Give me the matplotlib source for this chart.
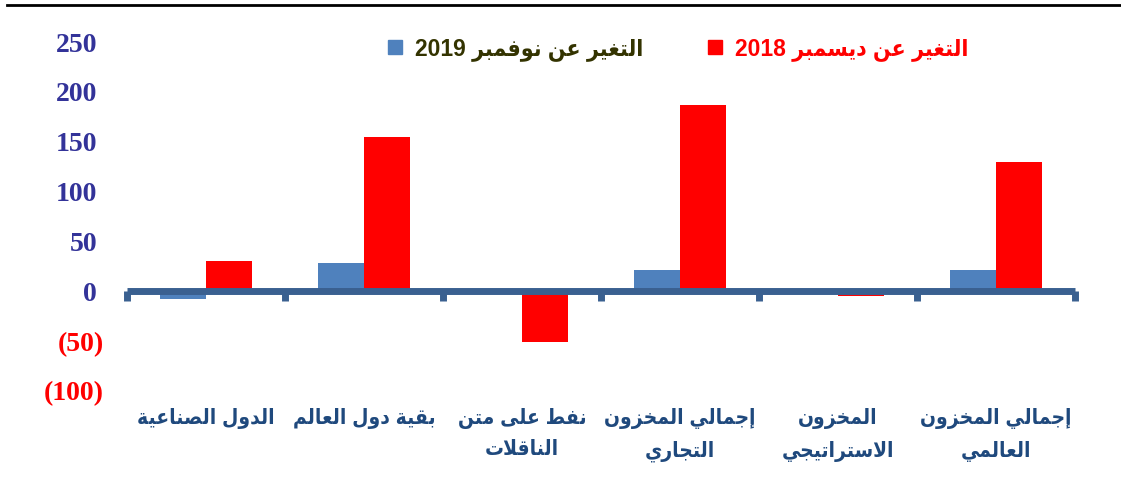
import re

import matplotlib
matplotlib.use('Agg')
import matplotlib.pyplot as plt
import numpy as np
from matplotlib.lines import Line2D
from matplotlib.transforms import ScaledTranslation

categories = ['الدول الصناعية', 'بقية دول العالم', 'نفط على متن\nالناقلات',
              'إجمالي المخزون\nالتجاري', 'المخزون\nالاستراتيجي', 'إجمالي المخزون\nالعالمي']
change_nov_2019 = [-8, 28, -2, 21, -1, 21]
change_dec_2018 = [30, 155, -51, 187, -5, 130]
series_names = ['التغير عن نوفمبر 2019', 'التغير عن ديسمبر 2018']
y_ticks = [-100, -50, 0, 50, 100, 150, 200, 250]

BLUE = '#4F81BD'
RED = '#FF0000'
AXIS = '#3A6090'
NAVY = '#333399'
LABEL = '#1F497D'
OLIVE = '#333300'

# matplotlib has no arabic shaping, so do it by hand with presentation forms
FORMS = {
    'ا': ('\uFE8D', '\uFE8E', None, None),
    'إ': ('\uFE87', '\uFE88', None, None),
    'ب': ('\uFE8F', '\uFE90', '\uFE91', '\uFE92'),
    'ة': ('\uFE93', '\uFE94', None, None),
    'ت': ('\uFE95', '\uFE96', '\uFE97', '\uFE98'),
    'ج': ('\uFE9D', '\uFE9E', '\uFE9F', '\uFEA0'),
    'خ': ('\uFEA5', '\uFEA6', '\uFEA7', '\uFEA8'),
    'د': ('\uFEA9', '\uFEAA', None, None),
    'ر': ('\uFEAD', '\uFEAE', None, None),
    'ز': ('\uFEAF', '\uFEB0', None, None),
    'س': ('\uFEB1', '\uFEB2', '\uFEB3', '\uFEB4'),
    'ص': ('\uFEB9', '\uFEBA', '\uFEBB', '\uFEBC'),
    'ط': ('\uFEC1', '\uFEC2', '\uFEC3', '\uFEC4'),
    'ع': ('\uFEC9', '\uFECA', '\uFECB', '\uFECC'),
    'غ': ('\uFECD', '\uFECE', '\uFECF', '\uFED0'),
    'ف': ('\uFED1', '\uFED2', '\uFED3', '\uFED4'),
    'ق': ('\uFED5', '\uFED6', '\uFED7', '\uFED8'),
    'ل': ('\uFEDD', '\uFEDE', '\uFEDF', '\uFEE0'),
    'م': ('\uFEE1', '\uFEE2', '\uFEE3', '\uFEE4'),
    'ن': ('\uFEE5', '\uFEE6', '\uFEE7', '\uFEE8'),
    'و': ('\uFEED', '\uFEEE', None, None),
    'ى': ('\uFEEF', '\uFEF0', None, None),
    'ي': ('\uFEF1', '\uFEF2', '\uFEF3', '\uFEF4'),
}
LAM_ALEF = ('\uFEFB', '\uFEFC')


def shape(text):
    out = []
    i = 0
    while i < len(text):
        c = text[i]
        if c not in FORMS:
            out.append(c)
            i += 1
            continue
        prev = text[i - 1] if i > 0 else ''
        joins_prev = prev in FORMS and FORMS[prev][2] is not None
        if c == 'ل' and i + 1 < len(text) and text[i + 1] == 'ا':
            out.append(LAM_ALEF[1 if joins_prev else 0])
            i += 2
            continue
        nxt = text[i + 1] if i + 1 < len(text) else ''
        joins_next = FORMS[c][2] is not None and nxt in FORMS
        iso, fin, ini, med = FORMS[c]
        if joins_prev and joins_next:
            out.append(med)
        elif joins_prev:
            out.append(fin)
        elif joins_next:
            out.append(ini)
        else:
            out.append(iso)
        i += 1
    return ''.join(out)


def rtl(text):
    lines = []
    for line in text.split('\n'):
        vis = shape(line)[::-1]
        vis = re.sub(r'[0-9]+', lambda m: m.group(0)[::-1], vis)
        lines.append(vis)
    return '\n'.join(lines)


ar_font = ['Liberation Sans', 'DejaVu Sans']

fig = plt.figure(figsize=(11.21, 4.88), dpi=100)
ax = fig.add_axes([127 / 1121, 1 - 391 / 488, 948 / 1121, 349 / 488])

x = np.arange(len(categories))
w = 0.29
ax.bar(x - w / 2, change_nov_2019, w, color=BLUE, zorder=1)
ax.bar(x + w / 2, change_dec_2018, w, color=RED, zorder=1)

ax.set_xlim(-0.5, len(categories) - 0.5)
ax.set_ylim(-100, 250)

for s in ['left', 'right', 'top']:
    ax.spines[s].set_visible(False)
ax.spines['bottom'].set_position(('data', 0))
ax.spines['bottom'].set_color(AXIS)
ax.spines['bottom'].set_linewidth(5)
ax.spines['bottom'].set_capstyle('butt')
ax.spines['bottom'].set_zorder(3)

ax.set_xticks(np.arange(len(categories) + 1) - 0.5)
ax.set_xticklabels([])
ax.tick_params(axis='x', which='major', direction='out', length=7, width=5, color=AXIS)
ax.set_xticks(x, minor=True)
ax.set_xticklabels([rtl(c) for c in categories], minor=True, family=ar_font,
                   fontweight='bold', fontsize=15, fontstretch='condensed',
                   color=LABEL, va='top', linespacing=1.75)
ax.tick_params(axis='x', which='minor', length=0, pad=84)

ax.set_yticks(y_ticks)
ax.set_yticklabels([f'({-v})' if v < 0 else str(v) for v in y_ticks],
                   family='Liberation Serif', fontweight='bold', fontsize=20)
ax.tick_params(axis='y', length=0, pad=16.5)
shift = ScaledTranslation(-7 / 100, 0, fig.dpi_scale_trans)
for v, lab in zip(y_ticks, ax.get_yticklabels()):
    lab.set_color(RED if v < 0 else NAVY)
    if v >= 0:
        lab.set_transform(lab.get_transform() + shift)

handles = [Line2D([], [], ls='none', marker='s', markersize=10, color=BLUE),
           Line2D([], [], ls='none', marker='s', markersize=10, color=RED)]
leg = fig.legend(handles, [rtl(s) for s in series_names], loc='center',
                 bbox_to_anchor=(0.604, 0.9), ncol=2, frameon=False,
                 prop={'family': ar_font, 'weight': 'bold', 'size': 16.5,
                       'stretch': 'condensed'},
                 handlelength=0.8, handletextpad=0.5, columnspacing=2.7)
for t, c in zip(leg.get_texts(), [OLIVE, RED]):
    t.set_color(c)

fig.add_artist(Line2D([7 / 1121, 1], [1 - 4.5 / 488] * 2, transform=fig.transFigure,
                      color='black', lw=2))

fig.savefig('out.png', dpi=100)
